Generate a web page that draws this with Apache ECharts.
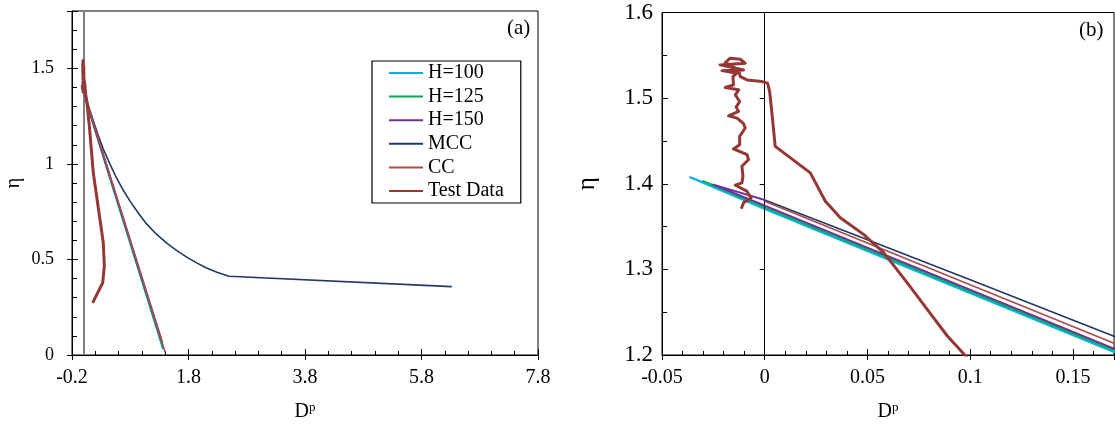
<!DOCTYPE html>
<html><head><meta charset="utf-8">
<script src="https://cdn.jsdelivr.net/npm/echarts@6/dist/echarts.min.js"></script>
<style>html,body{margin:0;padding:0;background:#fff}#c{width:1115px;height:427px}</style>
</head><body><div id="c"></div>
<script>
// ---------- data ----------
const seriesNames = ['H=100', 'H=125', 'H=150', 'MCC', 'CC', 'Test Data'];
const seriesColors = ['#00B0F0', '#00B050', '#7030A0', '#1F3864', '#A84C47', '#953735'];

const h100 = [[0,1.3735],[-0.0363,1.4076],[0,1.3705],[0.17,1.2035],[1.365,0.03]];
const h125 = [[0,1.3745],[-0.030,1.4030],[0,1.3725],[0.17,1.2055],[1.355,0.045]];
const h150 = [[0,1.381],[-0.025,1.399],[0,1.3745],[0.17,1.2075],[1.345,0.07]];
const mcc  = [[0,1.381],[0.05,1.3345],[0.1,1.288],[0.17,1.2218],[0.25,1.150],[0.337,1.078],[0.45,1.000],[0.567,0.925],[0.68,0.862],[0.796,0.805],[0.94,0.742],[1.08,0.686],[1.25,0.632],[1.426,0.585],[1.6,0.546],[1.77,0.512],[1.94,0.482],[2.11,0.455],[2.3,0.432],[2.495,0.412],[6.32,0.358]];
const cc   = [[0,1.3796],[0.17,1.2136],[1.40,0.0125]];
const testData = [[-0.0114,1.3708],[-0.0103,1.3778],[-0.0067,1.3836],[-0.0087,1.3913],[-0.0143,1.3983],[-0.0111,1.4011],[-0.0106,1.4088],[-0.0111,1.4204],[-0.0079,1.4282],[-0.0086,1.434],[-0.0152,1.4406],[-0.0122,1.4456],[-0.0122,1.4553],[-0.0095,1.4651],[-0.0103,1.4701],[-0.0135,1.4767],[-0.0176,1.4794],[-0.0127,1.4844],[-0.0139,1.4895],[-0.0122,1.4961],[-0.0143,1.5038],[-0.0127,1.5097],[-0.0192,1.5124],[-0.0152,1.5155],[-0.0155,1.5252],[-0.0135,1.5291],[-0.0208,1.5321],[-0.0103,1.5329],[-0.0217,1.5388],[-0.0095,1.5407],[-0.0119,1.5454],[-0.0168,1.5466],[-0.0192,1.5415],[-0.0127,1.5329],[-0.0119,1.5252],[-0.0086,1.5213],[-0.0013,1.5193],[0.0014,1.5175],[0.0024,1.5077],[0.0035,1.4826],[0.0051,1.4437],[0.0222,1.4127],[0.0295,1.3796],[0.0368,1.3603],[0.0481,1.3409],[0.0579,1.3196],[0.0693,1.2846],[0.079,1.2536],[0.0888,1.2225],[0.0977,1.1992],[0.166,0.952],[0.281,0.708],[0.337,0.587],[0.355,0.465],[0.327,0.378],[0.155,0.273]];
const seriesData = [h100, h125, h150, mcc, cc, testData];
const seriesWidths = [2, 2, 2, 1.6, 1.6, 3];

// tick labels
const xTicksA = [-0.2, 1.8, 3.8, 5.8, 7.8];
const yTicksA = [0, 0.5, 1, 1.5];
const yMaxA = 1.8;
const xTicksB = [-0.05, 0, 0.05, 0.1, 0.15];
const xMaxB = 0.17;
const yTicksB = [1.2, 1.3, 1.4, 1.5, 1.6];
const zeroLineX = 0;
const panelLabels = ['(a)', '(b)'];

// ---------- chart ----------
const FONT = '"Liberation Serif", "Times New Roman", serif';
// panel (a) x axis is shifted so that ticks start at a multiple of the interval
const xShiftA = -xTicksA[0];
const intA = xTicksA[1] - xTicksA[0];
const intB = +(xTicksB[1] - xTicksB[0]).toFixed(4);
const intYA = yTicksA[1] - yTicksA[0];
const intYB = +(yTicksB[1] - yTicksB[0]).toFixed(4);

const chart = echarts.init(document.getElementById('c'), null, {renderer: 'canvas'});

const nameRich = {
  d: {fontSize: 20, fontFamily: FONT, color: '#000', lineHeight: 22},
  p: {fontSize: 13, fontFamily: FONT, color: '#000', verticalAlign: 'top', lineHeight: 22, padding: [0,0,8,0]}
};

function mainX(grid, min, max, interval, split, fmt) {
  return {
    type: 'value', gridIndex: grid, min, max, interval,
    name: '{d|D}{p|p}', nameLocation: 'middle', nameGap: 46,
    nameTextStyle: {rich: nameRich},
    axisLine: {show: true, onZero: false, lineStyle: {color: '#000', width: 1}},
    axisTick: {show: true, inside: true, length: 6, lineStyle: {color: '#000'}},
    minorTick: {show: true, splitNumber: split, length: 4, lineStyle: {color: '#000'}},
    axisLabel: {show: true, fontSize: 20, fontFamily: FONT, color: '#000', margin: 13, showMaxLabel: grid === 0, formatter: fmt},
    splitLine: {show: false}, minorSplitLine: {show: false}
  };
}
function outerX(grid, min, max, interval) {
  return {
    type: 'value', gridIndex: grid, min, max, interval, position: 'bottom',
    axisLine: {show: false}, axisLabel: {show: false}, splitLine: {show: false},
    axisTick: {show: true, inside: false, length: 5, lineStyle: {color: '#000'}}
  };
}
function mainY(grid, min, max, interval, split, fs, margin, gap) {
  return {
    type: 'value', gridIndex: grid, min, max, interval,
    name: 'η', nameLocation: 'middle', nameGap: gap,
    nameTextStyle: {fontSize: fs + 2, fontFamily: FONT, color: '#000'},
    axisLine: {show: true, onZero: false, lineStyle: {color: '#000', width: 1}},
    axisTick: {show: true, inside: true, length: 6, lineStyle: {color: '#000'}},
    minorTick: {show: true, splitNumber: split, length: 5, lineStyle: {color: '#000'}},
    axisLabel: {show: true, fontSize: fs, fontFamily: FONT, color: '#000', margin: margin, showMaxLabel: grid === 1},
    splitLine: {show: false}, minorSplitLine: {show: false}
  };
}
function outerY(grid, min, max, interval) {
  return {
    type: 'value', gridIndex: grid, min, max, interval, position: 'left',
    axisLine: {show: false}, axisLabel: {show: false}, splitLine: {show: false},
    axisTick: {show: true, inside: false, length: 5, lineStyle: {color: '#000'}}
  };
}

const xMinA = 0, xMaxA = xTicksA[xTicksA.length - 1] + xShiftA;
const xAxes = [
  mainX(0, xMinA, xMaxA, intA, 5, v => (v - xShiftA).toFixed(1)),
  mainX(1, xTicksB[0], xMaxB, intB, 5, undefined),
  outerX(0, xMinA, xMaxA, intA),
  outerX(1, xTicksB[0], xMaxB, intB)
];
const yAxes = [
  mainY(0, yTicksA[0], yMaxA, intYA, 5, 18, 18, 48),
  mainY(1, yTicksB[0], yTicksB[yTicksB.length - 1], intYB, 2, 23, 9, 62),
  outerY(0, yTicksA[0], yMaxA, intYA),
  outerY(1, yTicksB[0], yTicksB[yTicksB.length - 1], intYB)
];

const series = [];
[0, 1].forEach(g => {
  seriesNames.forEach((name, i) => {
    const s = {
      name, type: 'line', xAxisIndex: g, yAxisIndex: g,
      data: seriesData[i].map(d => g === 0 ? [d[0] + xShiftA, d[1]] : [d[0], d[1]]),
      showSymbol: false, symbol: 'none', smooth: false, clip: true,
      lineStyle: {color: seriesColors[i], width: seriesWidths[i], join: 'round'},
      itemStyle: {color: seriesColors[i]},
      animation: false, z: 3 + i
    };
    if (i === 0) {
      s.markLine = {
        silent: true, symbol: ['none', 'none'], animation: false,
        label: {show: false},
        lineStyle: {color: g === 0 ? '#808080' : '#000', width: g === 0 ? 2 : 1, type: 'solid'},
        data: [{xAxis: g === 0 ? zeroLineX + xShiftA : zeroLineX}]
      };
    }
    series.push(s);
  });
});

chart.setOption({
  animation: false,
  backgroundColor: '#fff',
  grid: [
    {left: 72, top: 11, width: 466, height: 345, show: true, borderColor: '#000', borderWidth: 1, backgroundColor: 'transparent'},
    {left: 662, top: 12.5, width: 452, height: 344, show: true, borderColor: '#000', borderWidth: 1, backgroundColor: 'transparent'}
  ],
  xAxis: xAxes,
  yAxis: yAxes,
  legend: {
    show: true, orient: 'vertical', left: 372, top: 61,
    data: seriesNames.map(n => ({name: n})),
    padding: [2, 17, 2, 16], itemGap: 3.6, itemWidth: 34, itemHeight: 14,
    itemStyle: {opacity: 0},
    lineStyle: {opacity: 1},
    borderColor: '#000', borderWidth: 1.2, backgroundColor: '#fff',
    textStyle: {fontSize: 20, fontFamily: FONT, color: '#000', lineHeight: 20},
    selectedMode: false
  },
  graphic: [
    {type: 'text', left: 507, top: 18, style: {text: panelLabels[0], font: '21px ' + FONT, fill: '#000'}},
    {type: 'text', left: 1079, top: 20, style: {text: panelLabels[1], font: '21px ' + FONT, fill: '#000'}}
  ],
  series
});
</script>
</body></html>
